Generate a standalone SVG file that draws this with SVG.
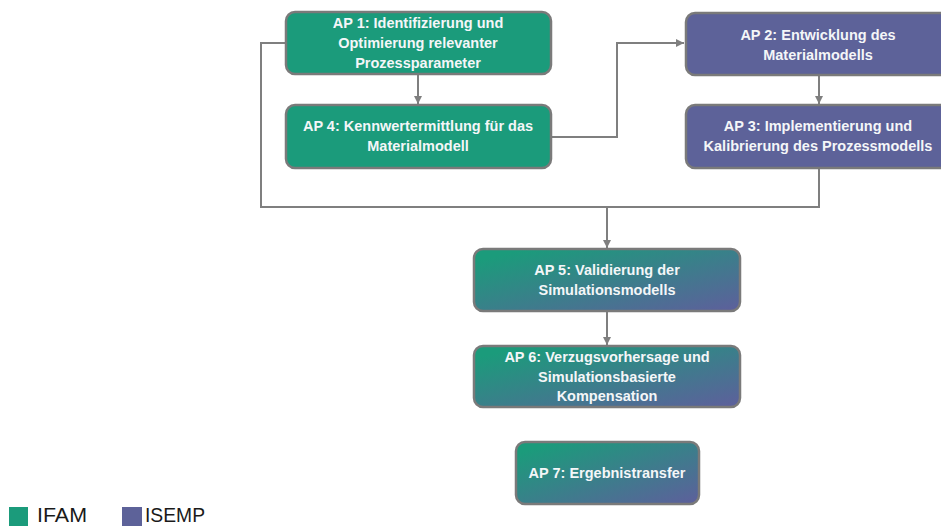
<svg xmlns="http://www.w3.org/2000/svg" width="941" height="528" viewBox="0 0 941 528">
<defs>
<linearGradient id="mix" x1="0" y1="0" x2="1" y2="1">
<stop offset="0.1" stop-color="#1b9b7b"/>
<stop offset="1" stop-color="#5e5f9c"/>
</linearGradient>
<marker id="arr" markerWidth="10" markerHeight="10" refX="8" refY="5" orient="auto" markerUnits="userSpaceOnUse">
<path d="M0,1 L8,5 L0,9 Z" fill="#7f7f7f"/>
</marker>
</defs>
<style>
.box{stroke:#7a7a7a;stroke-width:2.5}
.g{fill:#1b9b7b}
.p{fill:#5d6299}
.m{fill:url(#mix)}
.t{font-family:"Liberation Sans",Arial,sans-serif;font-weight:bold;font-size:14.5px;fill:#f4f6f8;text-anchor:middle}
.c{fill:none;stroke:#7f7f7f;stroke-width:2}
.leg{font-family:"Liberation Sans",Arial,sans-serif;font-size:21px;fill:#1a1a1a}
</style>
<rect width="941" height="528" fill="#ffffff"/>
<g id="connectors">
<path class="c" d="M418,74 V104" marker-end="url(#arr)"/>
<path class="c" d="M552,137 H617 V43 H684" marker-end="url(#arr)"/>
<path class="c" d="M819,75 V104" marker-end="url(#arr)"/>
<path class="c" d="M819,168 V207 H261 V43 H285"/>
<path class="c" d="M607,207 V248" marker-end="url(#arr)"/>
<path class="c" d="M607,311 V345" marker-end="url(#arr)"/>
</g>
<g id="ap1">
<rect class="box g" x="286" y="12" width="265" height="62" rx="9"/>
<text class="t" x="418" y="28">AP 1: Identifizierung und</text>
<text class="t" x="418" y="48">Optimierung relevanter</text>
<text class="t" x="418" y="68">Prozessparameter</text>
</g>
<g id="ap4">
<rect class="box g" x="286" y="105" width="265" height="63" rx="9"/>
<text class="t" x="418" y="131">AP 4: Kennwertermittlung für das</text>
<text class="t" x="418" y="151">Materialmodell</text>
</g>
<g id="ap2">
<rect class="box p" x="686" y="13" width="266" height="62" rx="9"/>
<text class="t" x="818" y="40">AP 2: Entwicklung des</text>
<text class="t" x="818" y="60">Materialmodells</text>
</g>
<g id="ap3">
<rect class="box p" x="686" y="105" width="266" height="63" rx="9"/>
<text class="t" x="818" y="131">AP 3: Implementierung und</text>
<text class="t" x="818" y="151">Kalibrierung des Prozessmodells</text>
</g>
<g id="ap5">
<rect class="box m" x="474" y="249" width="266" height="62" rx="9"/>
<text class="t" x="607" y="275">AP 5: Validierung der</text>
<text class="t" x="607" y="295">Simulationsmodells</text>
</g>
<g id="ap6">
<rect class="box m" x="474" y="346" width="266" height="61" rx="9"/>
<text class="t" x="607" y="362">AP 6: Verzugsvorhersage und</text>
<text class="t" x="607" y="382">Simulationsbasierte</text>
<text class="t" x="607" y="401">Kompensation</text>
</g>
<g id="ap7">
<rect class="box m" x="516" y="442" width="183" height="62" rx="9"/>
<text class="t" x="607" y="478">AP 7: Ergebnistransfer</text>
</g>
<g id="legend">
<rect x="9" y="507" width="19" height="19" fill="#1b9b7b"/>
<text class="leg" x="37" y="522" textLength="50" lengthAdjust="spacingAndGlyphs">IFAM</text>
<rect x="122" y="507" width="20" height="19" fill="#5d6299"/>
<text class="leg" x="145" y="522" textLength="60" lengthAdjust="spacingAndGlyphs">ISEMP</text>
</g>
</svg>
